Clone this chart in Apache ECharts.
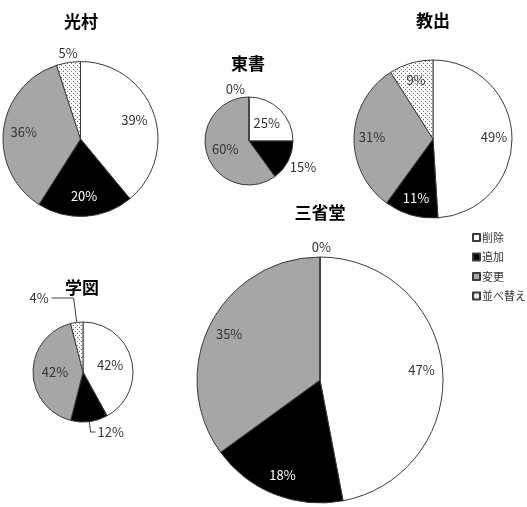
<!DOCTYPE html>
<html>
<head>
<meta charset="utf-8">
<script src="https://cdn.jsdelivr.net/npm/echarts@6/dist/echarts.min.js"></script>
<style>html,body{margin:0;padding:0;background:#fff}#c{width:527px;height:507px}</style>
</head>
<body>
<div id="c"></div>
<script>
// ---- data ----
const categories = ['削除', '追加', '変更', '並べ替え'];
const publishers = ['光村', '東書', '教出', '学図', '三省堂'];
const mitsumura = [39, 20, 36, 5];
const tosho = [25, 15, 60, 0];
const kyoshutsu = [49, 11, 31, 9];
const gakuto = [42, 12, 42, 4];
const sanseido = [47, 18, 35, 0];
const values = [mitsumura, tosho, kyoshutsu, gakuto, sanseido];

// ---- layout / style ----
const layout = [
  { c: [80.5, 139], r: 77.5, r0: 31, t: [81, 22],
    out: { 3: { len: 10, len2: 0, dist: -11, line: false } } },
  { c: [249, 141], r: 44, r0: 0, t: [248, 64],
    out: { 1: { len: 13, len2: 0, dist: -10, line: false },
           3: { len: 8, len2: 0, dist: 4, line: false } } },
  { c: [433, 139], r: 79, r0: 37, t: [433, 21], out: {} },
  { c: [83, 372], r: 50, r0: 0, t: [82, 288],
    out: { 1: { len: 10.5, len2: 5, dist: 2, line: true },
           3: { len: 24.6, len2: 22, dist: 3, line: true } } },
  { c: [320, 380], r: 123, r0: 75, t: [320, 213],
    out: { 3: { len: 10, len2: 0, dist: -11, line: false } } }
];

const pat = document.createElement('canvas');
pat.width = 4; pat.height = 4;
const pctx = pat.getContext('2d');
pctx.fillStyle = '#fff'; pctx.fillRect(0, 0, 4, 4);
pctx.fillStyle = '#666';
pctx.fillRect(1, 1, 1, 1);
pctx.fillRect(3, 3, 1, 1);

const sliceColors = ['#ffffff', '#000000', '#a6a6a6', { image: pat, repeat: 'repeat' }];
const labelColors = ['#333333', '#ffffff', '#333333', '#333333'];
const FONT = '"Noto Sans CJK JP", "Noto Sans", sans-serif';

const series = [];
const titles = [];
layout.forEach((L, i) => {
  const vals = values[i];
  series.push({
    type: 'pie', center: L.c, radius: [0, L.r], startAngle: 90, clockwise: true,
    avoidLabelOverlap: false, silent: true,
    label: { show: false }, labelLine: { show: false },
    emphasis: { disabled: true },
    itemStyle: { borderColor: '#3a3a3a', borderWidth: 1 },
    data: categories.map((n, k) => ({ name: n, value: vals[k], itemStyle: { color: sliceColors[k] } }))
  });
  series.push({
    type: 'pie', center: L.c, radius: [L.r0, L.r], startAngle: 90, clockwise: true,
    avoidLabelOverlap: false, silent: true,
    emphasis: { disabled: true },
    itemStyle: { color: 'rgba(0,0,0,0)', borderWidth: 0 },
    label: { show: true, position: 'inside', formatter: '{c}%', fontFamily: FONT, fontSize: 13, color: '#333' },
    labelLine: { show: false },
    data: categories.map((n, k) => {
      const o = L.out[k];
      const d = { name: n, value: vals[k], label: { color: labelColors[k] } };
      if (o) {
        d.label = { position: 'outside', color: '#333', distanceToLabelLine: o.dist };
        d.labelLine = { show: o.line, length: o.len, length2: o.len2, lineStyle: { color: '#404040', width: 1 } };
      }
      return d;
    })
  });
  titles.push({
    text: publishers[i], left: L.t[0], top: L.t[1], textAlign: 'center', textVerticalAlign: 'middle',
    padding: 0,
    textStyle: { fontFamily: FONT, fontSize: 17, fontWeight: 'bold', color: '#000' }
  });
});

const chart = echarts.init(document.getElementById('c'), null, { renderer: 'canvas' });
chart.setOption({
  animation: false,
  backgroundColor: '#fff',
  title: titles,
  legend: {
    data: categories, orient: 'vertical', left: 467, top: 227, padding: 5,
    itemWidth: 7, itemHeight: 7, itemGap: 8.5, icon: 'rect', selectedMode: false,
    textStyle: { fontFamily: FONT, fontSize: 11, color: '#333', padding: [0, 0, 0, -3] }
  },
  series: series
});
</script>
</body>
</html>
